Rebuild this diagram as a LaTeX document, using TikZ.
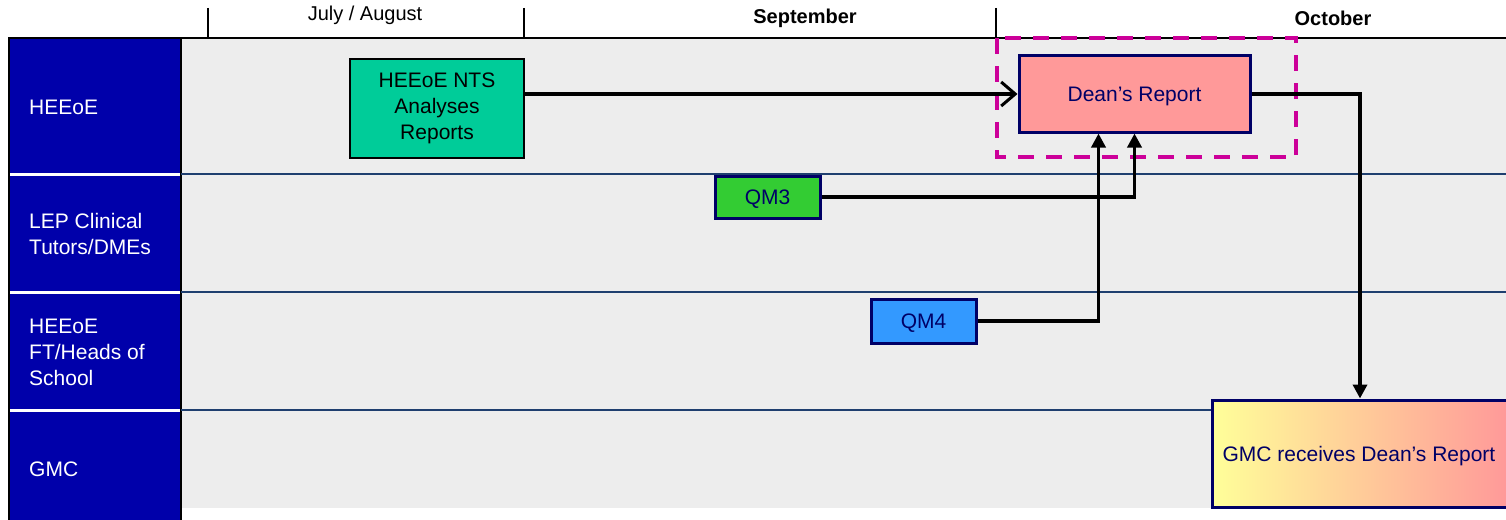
\documentclass[tikz,border=0pt]{standalone}
\usepackage{fontspec}
\setmainfont{Liberation Sans}
\usetikzlibrary{arrows.meta}
\definecolor{lanebg}{HTML}{EDEDED}
\definecolor{lanehead}{HTML}{0000AA}
\definecolor{lanerule}{HTML}{1F3F6F}
\definecolor{navy}{HTML}{000066}
\definecolor{ntsfill}{HTML}{00CC99}
\definecolor{deanfill}{HTML}{FF9999}
\definecolor{qmthree}{HTML}{33CC33}
\definecolor{qmfour}{HTML}{3399FF}
\definecolor{gmcleft}{HTML}{FFFF99}
\definecolor{focus}{HTML}{CC0099}
\tikzset{
  txt/.style={font=\fontsize{21}{26}\selectfont},
  lanelabel/.style={txt, text=white, anchor=west, align=left, inner sep=0pt},
  month/.style={font=\fontsize{20}{24}\selectfont, inner sep=0pt},
  taskbox/.style={txt, draw=navy, line width=3pt, text=navy, align=center, inner sep=0pt, text depth=0pt},
  flow/.style={line width=3.5pt, -{Triangle[length=14pt,width=14pt]}},
}
\begin{document}
\begin{tikzpicture}[x=1pt,y=-1pt]
\useasboundingbox (0,0) rectangle (1506,519);
% lane area and header column
\fill[lanebg] (181,38) rectangle (1506,508);
\filldraw[fill=lanehead, draw=black, line width=2pt] (9,38) rectangle (181,525);
% lane separators
\foreach \y in {174,292,410}{
  \draw[lanerule, line width=2pt] (181,\y) -- (1506,\y);
  \draw[white, line width=3pt] (10,\y) -- (180,\y);
}
% timeline header
\draw[line width=2pt] (8,38) -- (1506,38);
\foreach \x in {208,524,996}{ \draw[line width=2pt] (\x,8) -- (\x,38); }
\node[month] (m1) at (365,15) {July / August};
\node[month] (m2) at (805,18) {\bfseries September};
\node[month] (m3) at (1333,18) {\bfseries October};
% lane titles
\node[lanelabel] (l1) at (29,107) {HEEoE};
\node[lanelabel] (l2) at (29,234) {LEP Clinical\\Tutors/DMEs};
\node[lanelabel] (l3) at (29,352) {HEEoE\\FT/Heads of\\School};
\node[lanelabel] (l4) at (29,469) {GMC};
% tasks
\node[txt, draw=black, line width=2pt, fill=ntsfill, align=center, inner sep=0pt,
      minimum width=174pt, minimum height=99pt] (nts) at (437,108.5)
      {HEEoE NTS\\Analyses\\Reports};
\node[taskbox, fill=deanfill, minimum width=231pt, minimum height=76pt] (dean) at (1134.5,94) {Dean’s Report};
\node[taskbox, fill=qmthree, minimum width=105pt, minimum height=42pt] (qm3) at (767.5,197) {QM3};
\node[taskbox, fill=qmfour, minimum width=105pt, minimum height=44pt] (qm4) at (923.5,321) {QM4};
\node[taskbox, left color=gmcleft, right color=deanfill, minimum width=296pt, minimum height=107pt] (gmc) at (1360,453.5) {\hspace*{-2pt}GMC receives Dean’s Report};
% highlight around the report
\draw[focus, line width=4pt, dash pattern=on 16pt off 12pt] (997,38) rectangle (1296,157);
% connectors
\draw[line width=3.5pt, -{Straight Barb[length=14pt,width=24pt,line width=3pt]}] (nts.east |- dean) -- (dean.west);
\draw[flow] (qm3.east) -| (dean.south);
\draw[flow] (qm4.east) -| ([xshift=-36pt]dean.south);
\draw[flow] (dean.east) -| (gmc.north);
\end{tikzpicture}
\end{document}
